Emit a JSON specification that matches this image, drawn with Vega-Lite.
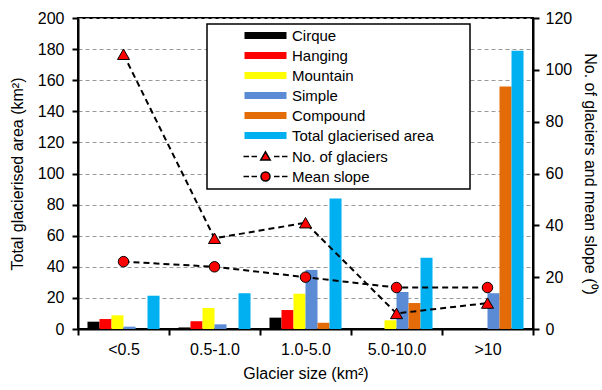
{
  "$schema": "https://vega.github.io/schema/vega-lite/v6.json",
  "width": 455,
  "height": 311,
  "autosize": {"type": "none"},
  "padding": {"left": 78, "top": 18, "right": 69, "bottom": 61},
  "background": "white",
  "config": {
    "font": "Liberation Sans",
    "view": {"stroke": "black", "strokeWidth": 2},
    "axis": {
      "labelFont": "Liberation Sans",
      "titleFont": "Liberation Sans",
      "labelFontSize": 16,
      "titleFontSize": 16,
      "titleFontWeight": "normal",
      "labelColor": "black",
      "titleColor": "black",
      "domainColor": "black",
      "domainWidth": 2,
      "tickColor": "black",
      "tickWidth": 2,
      "tickSize": 6
    }
  },
  "datasets": {
    "bars": [
      {"size": "<0.5", "type": "Cirque", "area": 4.7},
      {"size": "<0.5", "type": "Hanging", "area": 6.4},
      {"size": "<0.5", "type": "Mountain", "area": 8.8},
      {"size": "<0.5", "type": "Simple", "area": 1.5},
      {"size": "<0.5", "type": "Compound", "area": 0},
      {"size": "<0.5", "type": "Total glacierised area", "area": 21.4},
      {"size": "0.5-1.0", "type": "Cirque", "area": 1},
      {"size": "0.5-1.0", "type": "Hanging", "area": 5},
      {"size": "0.5-1.0", "type": "Mountain", "area": 13.5},
      {"size": "0.5-1.0", "type": "Simple", "area": 3},
      {"size": "0.5-1.0", "type": "Compound", "area": 0},
      {"size": "0.5-1.0", "type": "Total glacierised area", "area": 23},
      {"size": "1.0-5.0", "type": "Cirque", "area": 7.3},
      {"size": "1.0-5.0", "type": "Hanging", "area": 12.2},
      {"size": "1.0-5.0", "type": "Mountain", "area": 22.7},
      {"size": "1.0-5.0", "type": "Simple", "area": 38},
      {"size": "1.0-5.0", "type": "Compound", "area": 4},
      {"size": "1.0-5.0", "type": "Total glacierised area", "area": 84},
      {"size": "5.0-10.0", "type": "Cirque", "area": 0},
      {"size": "5.0-10.0", "type": "Hanging", "area": 0},
      {"size": "5.0-10.0", "type": "Mountain", "area": 5.6},
      {"size": "5.0-10.0", "type": "Simple", "area": 23.8},
      {"size": "5.0-10.0", "type": "Compound", "area": 16.7},
      {"size": "5.0-10.0", "type": "Total glacierised area", "area": 45.9},
      {"size": ">10", "type": "Cirque", "area": 0},
      {"size": ">10", "type": "Hanging", "area": 0},
      {"size": ">10", "type": "Mountain", "area": 0},
      {"size": ">10", "type": "Simple", "area": 23},
      {"size": ">10", "type": "Compound", "area": 156},
      {"size": ">10", "type": "Total glacierised area", "area": 179}
    ],
    "lines": [
      {"size": "<0.5", "series": "No. of glaciers", "value": 106},
      {"size": "0.5-1.0", "series": "No. of glaciers", "value": 35},
      {"size": "1.0-5.0", "series": "No. of glaciers", "value": 41},
      {"size": "5.0-10.0", "series": "No. of glaciers", "value": 6},
      {"size": ">10", "series": "No. of glaciers", "value": 10},
      {"size": "<0.5", "series": "Mean slope", "value": 26},
      {"size": "0.5-1.0", "series": "Mean slope", "value": 24},
      {"size": "1.0-5.0", "series": "Mean slope", "value": 20},
      {"size": "5.0-10.0", "series": "Mean slope", "value": 16},
      {"size": ">10", "series": "Mean slope", "value": 16}
    ]
  },
  "encoding": {
    "x": {
      "field": "size",
      "type": "nominal",
      "sort": ["<0.5", "0.5-1.0", "1.0-5.0", "5.0-10.0", ">10"],
      "scale": {"paddingInner": 0, "paddingOuter": 0},
      "axis": {
        "title": "Glacier size (km²)",
        "labelAngle": 0,
        "tickBand": "extent",
        "labelPadding": 6,
        "titlePadding": 8
      }
    }
  },
  "layer": [
    {
      "data": {"name": "bars"},
      "mark": {"type": "bar"},
      "encoding": {
        "xOffset": {
          "field": "type",
          "type": "nominal",
          "sort": ["Cirque", "Hanging", "Mountain", "Simple", "Compound", "Total glacierised area"],
          "scale": {"paddingInner": 0, "paddingOuter": 0.79}
        },
        "y": {
          "field": "area",
          "type": "quantitative",
          "scale": {"domain": [0, 200], "nice": false},
          "axis": {
            "title": "Total glacierised area (km²)",
            "values": [0, 20, 40, 60, 80, 100, 120, 140, 160, 180, 200],
            "grid": true,
            "gridColor": "#999999",
            "gridDash": [4, 3],
            "gridWidth": 1,
            "labelPadding": 8,
            "titlePadding": 12
          }
        },
        "color": {
          "field": "type",
          "type": "nominal",
          "scale": {
            "domain": ["Cirque", "Hanging", "Mountain", "Simple", "Compound", "Total glacierised area", "No. of glaciers", "Mean slope"],
            "range": ["#000000", "#FF0000", "#FFFF00", "#5B8BD5", "#E36C09", "#00B0F0", "#FF0000", "#FF0000"]
          },
          "legend": {
            "orient": "none",
            "legendX": 129,
            "legendY": 6,
            "title": null,
            "padding": 4,
            "strokeColor": "black",
            "fillColor": "white",
            "labelFont": "Liberation Sans",
            "labelFontSize": 15,
            "labelColor": "black",
            "symbolSize": 100,
            "symbolStrokeWidth": 1.5,
            "symbolStrokeColor": "black",
            "symbolOpacity": 1,
            "symbolOffset": 47,
            "labelOffset": 19,
            "rowPadding": 4,
            "encode": {
              "legend": {
                "update": {"strokeWidth": {"value": 1.5}}
              },
              "symbols": {
                "update": {
                  "shape": {"signal": "datum.value == 'No. of glaciers' ? 'M-4.4,0H-3.3M-2.8,0H-1.7M1.7,0H2.8M3.3,0H4.4M0,-0.95L0.95,0.7L-0.95,0.7Z' : datum.value == 'Mean slope' ? 'M-4.4,0H-3.3M-2.8,0H-1.7M1.7,0H2.8M3.3,0H4.4M0.9,0A0.9,0.9 0 1,1 -0.9,0A0.9,0.9 0 1,1 0.9,0Z' : 'M-4.2,-0.7H4.2V0.7H-4.2ZM39.4,0'"},
                  "stroke": {"signal": "datum.value == 'No. of glaciers' || datum.value == 'Mean slope' ? 'black' : 'transparent'"}
                }
              }
            }
          }
        }
      }
    },
    {
      "data": {"name": "lines"},
      "encoding": {
        "y": {
          "field": "value",
          "type": "quantitative",
          "scale": {"domain": [0, 120], "nice": false},
          "axis": {
            "orient": "right",
            "title": "No. of glaciers and mean slope (⁰)",
            "values": [0, 20, 40, 60, 80, 100, 120],
            "grid": false,
            "labelPadding": 6,
            "titlePadding": 10
          }
        }
      },
      "layer": [
        {
          "mark": {"type": "line", "color": "black", "strokeWidth": 2, "strokeDash": [6, 4]},
          "encoding": {"detail": {"field": "series", "type": "nominal"}}
        },
        {
          "transform": [{"filter": "datum.series == 'No. of glaciers'"}],
          "mark": {"type": "point", "shape": "triangle-up", "size": 144, "filled": true, "fill": "#FF0000", "stroke": "black", "strokeWidth": 1, "opacity": 1}
        },
        {
          "transform": [{"filter": "datum.series == 'Mean slope'"}],
          "mark": {"type": "point", "shape": "circle", "size": 110, "filled": true, "fill": "#FF0000", "stroke": "black", "strokeWidth": 1, "opacity": 1}
        }
      ]
    }
  ],
  "resolve": {"scale": {"y": "independent"}}
}
